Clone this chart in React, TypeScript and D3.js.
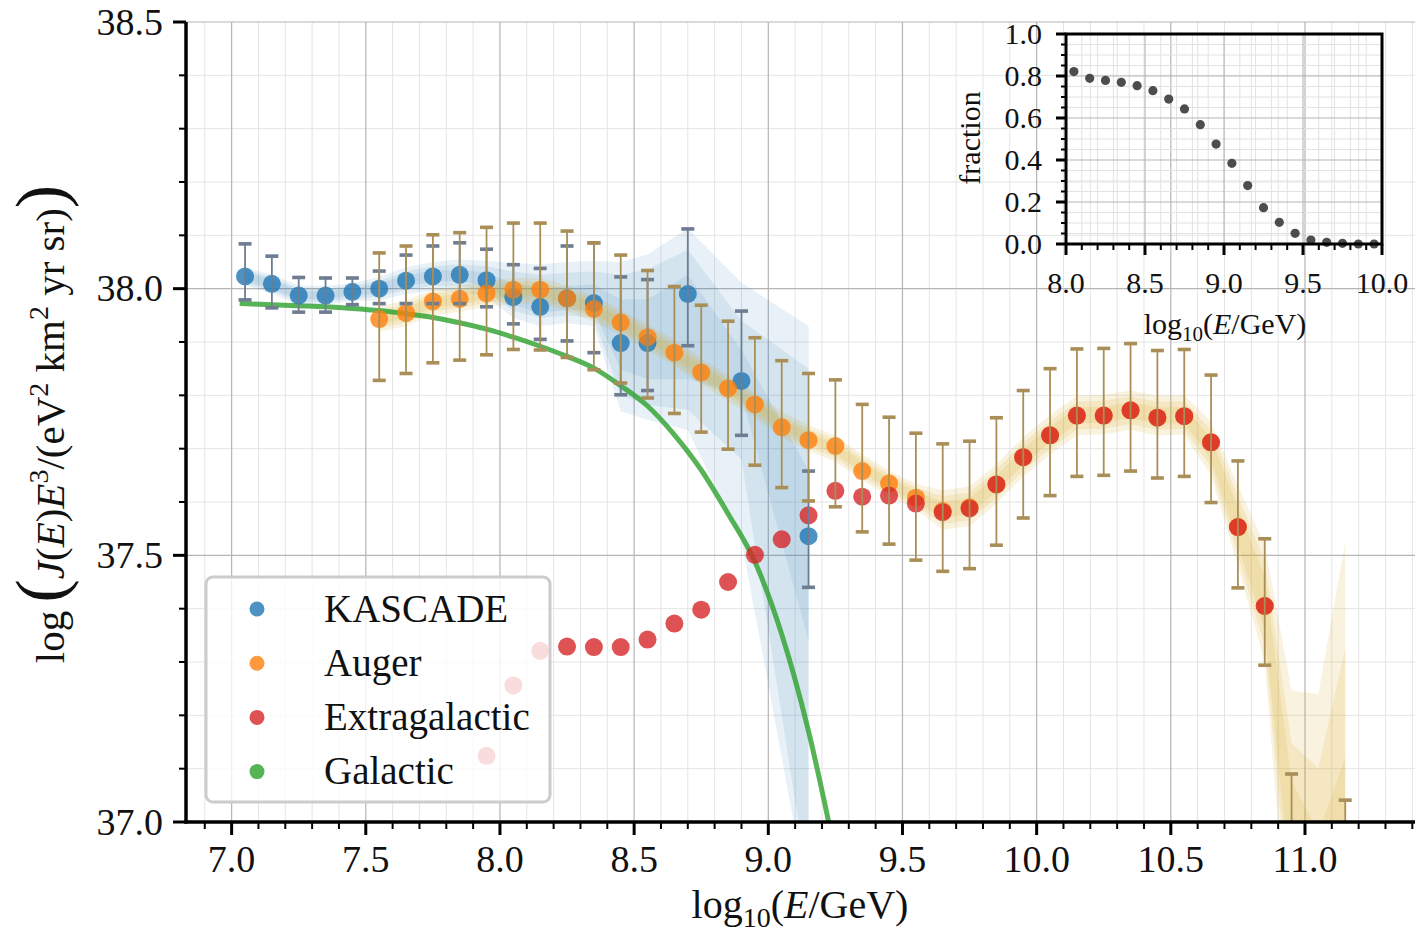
import React from 'react';
import * as d3 from 'd3';

// ---------------- data ----------------
const kascadeX = [7.05, 7.15, 7.25, 7.35, 7.45, 7.55, 7.65, 7.75, 7.85, 7.95, 8.05, 8.15, 8.25, 8.35, 8.45, 8.55, 8.70, 8.90, 9.15];
const kascadeY = [38.023, 38.009, 37.987, 37.987, 37.994, 38.000, 38.015, 38.023, 38.026, 38.016, 37.984, 37.966, 37.982, 37.973, 37.898, 37.898, 37.990, 37.827, 37.536];
const kascadeErrHi = [38.084, 38.061, 38.021, 38.020, 38.020, 38.033, 38.063, 38.080, 38.086, 38.074, 38.045, 38.038, 38.080, 38.086, 38.022, 38.017, 38.112, 37.958, 37.658];
const kascadeErrLo = [37.979, 37.964, 37.956, 37.956, 37.970, 37.972, 37.972, 37.972, 37.972, 37.966, 37.934, 37.905, 37.902, 37.880, 37.801, 37.809, 37.893, 37.725, 37.440];
const kascadeBandOuterHi = [38.040, 38.026, 38.006, 38.005, 38.010, 38.022, 38.040, 38.050, 38.055, 38.052, 38.048, 38.046, 38.050, 38.052, 38.050, 38.064, 38.113, 38.011, 37.930];
const kascadeBandMidHi = [38.035, 38.021, 38.001, 38.000, 38.005, 38.015, 38.032, 38.042, 38.046, 38.042, 38.032, 38.026, 38.030, 38.032, 38.026, 38.036, 38.073, 37.940, 37.850];
const kascadeBandInnerHi = [38.031, 38.017, 37.996, 37.995, 38.000, 38.010, 38.025, 38.034, 38.036, 38.030, 38.010, 38.000, 38.005, 38.008, 37.980, 37.980, 38.026, 37.885, 37.660];
const kascadeBandInnerLo = [38.015, 38.000, 37.980, 37.980, 37.988, 37.990, 38.005, 38.013, 38.015, 38.005, 37.970, 37.955, 37.960, 37.958, 37.848, 37.830, 37.830, 37.800, 37.340];
const kascadeBandMidLo = [38.010, 37.996, 37.975, 37.975, 37.983, 37.985, 37.998, 38.005, 38.005, 37.995, 37.958, 37.945, 37.950, 37.945, 37.800, 37.782, 37.773, 37.680, 36.880];
const kascadeBandOuterLo = [38.006, 37.991, 37.970, 37.970, 37.978, 37.978, 37.990, 37.996, 37.995, 37.985, 37.945, 37.930, 37.935, 37.930, 37.770, 37.754, 37.735, 37.528, 36.850];

const augerX = [7.55, 7.65, 7.75, 7.85, 7.95, 8.05, 8.15, 8.25, 8.35, 8.45, 8.55, 8.65, 8.75, 8.85, 8.95, 9.05, 9.15, 9.25, 9.35, 9.45, 9.55, 9.65, 9.75, 9.85, 9.95, 10.05, 10.15, 10.25, 10.35, 10.45, 10.55, 10.65, 10.75, 10.85, 10.95, 11.05, 11.15];
const augerY = [37.943, 37.954, 37.976, 37.981, 37.991, 37.998, 37.998, 37.982, 37.962, 37.937, 37.909, 37.880, 37.843, 37.813, 37.783, 37.740, 37.716, 37.705, 37.658, 37.635, 37.608, 37.583, 37.590, 37.633, 37.684, 37.725, 37.762, 37.762, 37.772, 37.758, 37.761, 37.712, 37.553, 37.405, null, null, null];
const augerErrHi = [38.067, 38.080, 38.101, 38.105, 38.115, 38.123, 38.123, 38.108, 38.086, 38.063, 38.034, 38.004, 37.969, 37.939, 37.908, 37.865, 37.841, 37.829, 37.783, 37.759, 37.729, 37.709, 37.714, 37.758, 37.809, 37.850, 37.887, 37.888, 37.897, 37.884, 37.886, 37.838, 37.677, 37.531, 37.090, null, 37.041];
const augerErrLo = [37.828, 37.841, 37.861, 37.866, 37.876, 37.886, 37.885, 37.871, 37.848, 37.823, 37.795, 37.766, 37.731, 37.699, 37.669, 37.627, 37.602, 37.591, 37.544, 37.521, 37.491, 37.470, 37.475, 37.519, 37.570, 37.612, 37.648, 37.650, 37.658, 37.645, 37.648, 37.599, 37.439, 37.294, 36.800, null, 36.800];
const augerBandCenter = [37.943, 37.954, 37.974, 37.981, 37.990, 37.996, 37.996, 37.982, 37.962, 37.937, 37.909, 37.880, 37.845, 37.813, 37.782, 37.745, 37.720, 37.700, 37.665, 37.635, 37.610, 37.585, 37.592, 37.634, 37.685, 37.726, 37.762, 37.764, 37.772, 37.762, 37.763, 37.700, 37.555, 37.410, 36.970, 36.970, 36.970];
const augerBandHalfOuter = [0.024, 0.024, 0.024, 0.024, 0.024, 0.024, 0.024, 0.024, 0.024, 0.024, 0.024, 0.024, 0.024, 0.024, 0.024, 0.024, 0.024, 0.024, 0.024, 0.024, 0.024, 0.037, 0.037, 0.037, 0.037, 0.037, 0.037, 0.037, 0.037, 0.037, 0.037, 0.050, 0.075, 0.110, 0.276, 0.270, 0.555];
const augerBandHalfMid = [0.017, 0.017, 0.017, 0.017, 0.017, 0.017, 0.017, 0.017, 0.017, 0.017, 0.017, 0.017, 0.017, 0.017, 0.017, 0.017, 0.017, 0.017, 0.017, 0.017, 0.017, 0.026, 0.026, 0.026, 0.026, 0.026, 0.026, 0.026, 0.026, 0.026, 0.026, 0.035, 0.055, 0.080, 0.177, 0.131, 0.355];
const augerBandHalfInner = [0.010, 0.010, 0.010, 0.010, 0.010, 0.010, 0.010, 0.010, 0.010, 0.010, 0.010, 0.010, 0.010, 0.010, 0.010, 0.010, 0.010, 0.010, 0.010, 0.010, 0.010, 0.015, 0.015, 0.015, 0.015, 0.015, 0.015, 0.015, 0.015, 0.015, 0.015, 0.020, 0.035, 0.050, 0.107, 0.010, 0.151];

const extraX = [7.95, 8.05, 8.15, 8.25, 8.35, 8.45, 8.55, 8.65, 8.75, 8.85, 8.95, 9.05, 9.15, 9.25, 9.35, 9.45, 9.55, 9.65, 9.75, 9.85, 9.95, 10.05, 10.15, 10.25, 10.35, 10.45, 10.55, 10.65, 10.75, 10.85];
const extraY = [37.124, 37.256, 37.321, 37.329, 37.328, 37.328, 37.342, 37.372, 37.398, 37.450, 37.501, 37.530, 37.575, 37.621, 37.610, 37.612, 37.597, 37.581, 37.588, 37.633, 37.684, 37.725, 37.762, 37.762, 37.772, 37.758, 37.761, 37.712, 37.553, 37.405];

const galX = [7.03, 7.15, 7.25, 7.35, 7.45, 7.55, 7.65, 7.75, 7.85, 7.95, 8.05, 8.15, 8.25, 8.35, 8.45, 8.55, 8.65, 8.75, 8.85, 8.95, 9.05, 9.15, 9.25];
const galY = [37.972, 37.970, 37.968, 37.966, 37.963, 37.959, 37.953, 37.946, 37.936, 37.924, 37.909, 37.892, 37.873, 37.851, 37.818, 37.780, 37.726, 37.660, 37.578, 37.488, 37.352, 37.170, 36.940];

const fracX = [8.05, 8.15, 8.25, 8.35, 8.45, 8.55, 8.65, 8.75, 8.85, 8.95, 9.05, 9.15, 9.25, 9.35, 9.45, 9.55, 9.65, 9.75, 9.85, 9.95];
const fracY = [0.821, 0.789, 0.779, 0.770, 0.754, 0.730, 0.690, 0.643, 0.568, 0.476, 0.384, 0.278, 0.173, 0.103, 0.051, 0.019, 0.008, 0.003, 0.000, 0.000];

const xMajorTicks = [7.0, 7.5, 8.0, 8.5, 9.0, 9.5, 10.0, 10.5, 11.0];
const yMajorTicks = [37.0, 37.5, 38.0, 38.5];
const insetXTicks = [8.0, 8.5, 9.0, 9.5, 10.0];
const insetYTicks = [0.0, 0.2, 0.4, 0.6, 0.8, 1.0];

const legendLabels = ['KASCADE', 'Auger', 'Extragalactic', 'Galactic'];
const legendColors = ['#1f77b4', '#ff7f0e', '#d62728', '#2ca02c'];

// ---------------- chart ----------------
const FONT = '"Liberation Serif", "DejaVu Serif", serif';

export default function App() {
  const x = d3.scaleLinear().domain([6.83, 11.41]).range([186, 1415]);
  const y = d3.scaleLinear().domain([37, 38.5]).range([822, 22]);
  const ix = d3.scaleLinear().domain([8, 10]).range([1066, 1382]);
  const iy = d3.scaleLinear().domain([0, 1]).range([244, 34]);

  const area = (xs: number[], lo: number[], hi: number[]) =>
    d3.area<number>().x((_, i) => x(xs[i])).y0((_, i) => y(lo[i])).y1((_, i) => y(hi[i]))(xs) || '';

  const augerLo = (h: number[]) => augerBandCenter.map((c, i) => c - h[i]);
  const augerHi = (h: number[]) => augerBandCenter.map((c, i) => c + h[i]);

  const galLine = d3.line<number>().curve(d3.curveMonotoneX).x((_, i) => x(galX[i])).y((_, i) => y(galY[i]))(galX) || '';

  const xMinor = d3.range(69, 115).map(v => v / 10);
  const yMinor = d3.range(370, 386).map(v => v / 10);
  const isMajor = (v: number) => Math.abs(v * 2 - Math.round(v * 2)) < 1e-6;

  const ixMinor = d3.range(80, 101).map(v => v / 10);
  const iyMinor = d3.range(0, 21).map(v => v / 20);

  const errBars = (xs: number[], lo: (number | null)[], hi: (number | null)[], color: string, key: string) =>
    xs.map((xv, i) => {
      const h = hi[i], l = lo[i];
      if (h == null || l == null) return null;
      const px = x(xv);
      return (
        <g key={key + i}>
          <line x1={px} x2={px} y1={y(l)} y2={y(h)} stroke={color} strokeWidth={1.8} />
          <rect x={px - 6.5} y={y(h) - 1.8} width={13} height={3.6} fill={color} />
          <rect x={px - 6.5} y={y(l) - 1.8} width={13} height={3.6} fill={color} />
        </g>
      );
    });

  const bandBlue = '#1f77b4';
  const bandGold = '#daa520';

  return (
    <svg width={1420} height={935} style={{ position: 'absolute', left: 0, top: 0, background: '#fff' }} fontFamily={FONT}>
      <defs>
        <clipPath id="plotClip">
          <rect x={186} y={22} width={1229} height={800} />
        </clipPath>
      </defs>
      <rect x={0} y={0} width={1420} height={935} fill="#fff" />

      {/* grid */}
      <g>
        {xMinor.filter(v => !isMajor(v)).map(v => (
          <line key={'gx' + v} x1={x(v)} x2={x(v)} y1={22} y2={822} stroke="#e4e4e4" strokeWidth={1} />
        ))}
        {yMinor.filter(v => !isMajor(v)).map(v => (
          <line key={'gy' + v} x1={186} x2={1415} y1={y(v)} y2={y(v)} stroke="#e4e4e4" strokeWidth={1} />
        ))}
        {xMinor.filter(v => isMajor(v)).map(v => (
          <line key={'gX' + v} x1={x(v)} x2={x(v)} y1={22} y2={822} stroke="#b5b5b5" strokeWidth={1.2} />
        ))}
        {yMinor.filter(v => isMajor(v)).map(v => (
          <line key={'gY' + v} x1={186} x2={1415} y1={y(v)} y2={y(v)} stroke="#b5b5b5" strokeWidth={1.2} />
        ))}
      </g>

      <g clipPath="url(#plotClip)">
        {/* KASCADE bands */}
        <path d={area(kascadeX, kascadeBandOuterLo, kascadeBandOuterHi)} fill={bandBlue} fillOpacity={0.1} />
        <path d={area(kascadeX, kascadeBandMidLo, kascadeBandMidHi)} fill={bandBlue} fillOpacity={0.1} />
        <path d={area(kascadeX, kascadeBandInnerLo, kascadeBandInnerHi)} fill={bandBlue} fillOpacity={0.1} />
        {/* Auger bands */}
        <path d={area(augerX, augerLo(augerBandHalfOuter), augerHi(augerBandHalfOuter))} fill={bandGold} fillOpacity={0.15} />
        <path d={area(augerX, augerLo(augerBandHalfMid), augerHi(augerBandHalfMid))} fill={bandGold} fillOpacity={0.15} />
        <path d={area(augerX, augerLo(augerBandHalfInner), augerHi(augerBandHalfInner))} fill={bandGold} fillOpacity={0.15} />

        {/* Galactic line */}
        <path d={galLine} fill="none" stroke="#2ca02c" strokeOpacity={0.8} strokeWidth={5} />

        {/* points */}
        {kascadeX.map((xv, i) => (
          <circle key={'k' + i} cx={x(xv)} cy={y(kascadeY[i])} r={9} fill="#1f77b4" fillOpacity={0.8} />
        ))}
        {augerX.map((xv, i) => augerY[i] == null ? null : (
          <circle key={'a' + i} cx={x(xv)} cy={y(augerY[i] as number)} r={9} fill="#ff7f0e" fillOpacity={0.8} />
        ))}
        {extraX.map((xv, i) => (
          <circle key={'e' + i} cx={x(xv)} cy={y(extraY[i])} r={9} fill="#d62728" fillOpacity={0.8} />
        ))}

        {/* error bars */}
        {errBars(kascadeX, kascadeErrLo, kascadeErrHi, '#6e7d91', 'ke')}
        {errBars(augerX, augerErrLo, augerErrHi, '#a98f57', 'ae')}
      </g>

      {/* legend */}
      <g>
        <rect x={206} y={577} width={344} height={225} rx={7} fill="#fff" fillOpacity={0.8} stroke="#cccccc" strokeWidth={3} />
        {legendLabels.map((lab, i) => {
          const cy = 609 + i * 54.2;
          return (
            <g key={'lg' + i}>
              <circle cx={257} cy={cy} r={7.5} fill={legendColors[i]} fillOpacity={0.8} />
              <text x={324} y={cy + 12.5} fontSize={39} fill="#111">{lab}</text>
            </g>
          );
        })}
      </g>

      {/* axes */}
      <g>
        <line x1={186} x2={186} y1={22} y2={823.5} stroke="#000" strokeWidth={3.5} />
        <line x1={184.25} x2={1415} y1={822} y2={822} stroke="#000" strokeWidth={3.5} />
        {xMinor.map(v => (
          <line key={'tx' + v} x1={x(v)} x2={x(v)} y1={822} y2={822 + (isMajor(v) ? 13 : 7)} stroke="#000" strokeWidth={isMajor(v) ? 3 : 2} />
        ))}
        {yMinor.map(v => (
          <line key={'ty' + v} x1={186 - (isMajor(v) ? 13 : 7)} x2={186} y1={y(v)} y2={y(v)} stroke="#000" strokeWidth={isMajor(v) ? 3 : 2} />
        ))}
        {xMajorTicks.map(v => (
          <text key={'lx' + v} x={x(v)} y={872} fontSize={38} textAnchor="middle" fill="#111">{v.toFixed(1)}</text>
        ))}
        {yMajorTicks.map(v => (
          <text key={'ly' + v} x={163} y={y(v) + 12.5} fontSize={38} textAnchor="end" fill="#111">{v.toFixed(1)}</text>
        ))}
        <text x={800} y={918} fontSize={40} textAnchor="middle" fill="#111">
          <tspan>log</tspan>
          <tspan fontSize={28} dy={9}>10</tspan>
          <tspan dy={-9}>(</tspan>
          <tspan fontStyle="italic">E</tspan>
          <tspan>/GeV)</tspan>
        </text>
        <text transform="translate(64,424) rotate(-90)" fontSize={41} textAnchor="middle" fill="#111">
          <tspan>{'log\u2009'}</tspan>
          <tspan fontSize={70}>(</tspan>
          <tspan fontStyle="italic">J</tspan>
          <tspan>(</tspan>
          <tspan fontStyle="italic">E</tspan>
          <tspan>)</tspan>
          <tspan fontStyle="italic">E</tspan>
          <tspan fontSize={28} dy={-16}>3</tspan>
          <tspan dy={16}>/(eV</tspan>
          <tspan fontSize={28} dy={-16}>2</tspan>
          <tspan dy={16}>{'\u00a0km'}</tspan>
          <tspan fontSize={28} dy={-16}>2</tspan>
          <tspan dy={16}>{'\u00a0yr sr)'}</tspan>
          <tspan fontSize={70}>)</tspan>
        </text>
      </g>

      {/* inset */}
      <g>
        {ixMinor.filter(v => !isMajor(v)).map(v => (
          <line key={'igx' + v} x1={ix(v)} x2={ix(v)} y1={34} y2={244} stroke="#e2e2e2" strokeWidth={1} />
        ))}
        {iyMinor.filter(v => Math.abs(v * 5 - Math.round(v * 5)) > 1e-6).map(v => (
          <line key={'igy' + v} x1={1066} x2={1382} y1={iy(v)} y2={iy(v)} stroke="#e2e2e2" strokeWidth={1} />
        ))}
        {ixMinor.filter(v => isMajor(v)).map(v => (
          <line key={'igX' + v} x1={ix(v)} x2={ix(v)} y1={34} y2={244} stroke="#b5b5b5" strokeWidth={1.1} />
        ))}
        {insetYTicks.map(v => (
          <line key={'igY' + v} x1={1066} x2={1382} y1={iy(v)} y2={iy(v)} stroke="#b5b5b5" strokeWidth={1.1} />
        ))}
        {fracX.map((xv, i) => (
          <circle key={'f' + i} cx={ix(xv)} cy={iy(fracY[i])} r={4.6} fill="#3a3a3a" fillOpacity={0.9} />
        ))}
        <rect x={1066} y={34} width={316} height={210} fill="none" stroke="#000" strokeWidth={3} />
        {ixMinor.map(v => (
          <line key={'itx' + v} x1={ix(v)} x2={ix(v)} y1={244} y2={244 + (isMajor(v) ? 11 : 6)} stroke="#000" strokeWidth={isMajor(v) ? 3 : 2} />
        ))}
        {iyMinor.map(v => {
          const maj = Math.abs(v * 5 - Math.round(v * 5)) < 1e-6;
          return <line key={'ity' + v} x1={1066 - (maj ? 10 : 5)} x2={1066} y1={iy(v)} y2={iy(v)} stroke="#000" strokeWidth={maj ? 3 : 2} />;
        })}
        {insetXTicks.map(v => (
          <text key={'ilx' + v} x={ix(v)} y={293} fontSize={30} textAnchor="middle" fill="#111">{v.toFixed(1)}</text>
        ))}
        {insetYTicks.map(v => (
          <text key={'ily' + v} x={1042} y={iy(v) + 10} fontSize={30} textAnchor="end" fill="#111">{v.toFixed(1)}</text>
        ))}
        <text transform="translate(980,138) rotate(-90)" fontSize={30} textAnchor="middle" fill="#111">fraction</text>
        <text x={1225} y={334} fontSize={30} textAnchor="middle" fill="#111">
          <tspan>log</tspan>
          <tspan fontSize={21} dy={7}>10</tspan>
          <tspan dy={-7}>(</tspan>
          <tspan fontStyle="italic">E</tspan>
          <tspan>/GeV)</tspan>
        </text>
      </g>
    </svg>
  );
}
